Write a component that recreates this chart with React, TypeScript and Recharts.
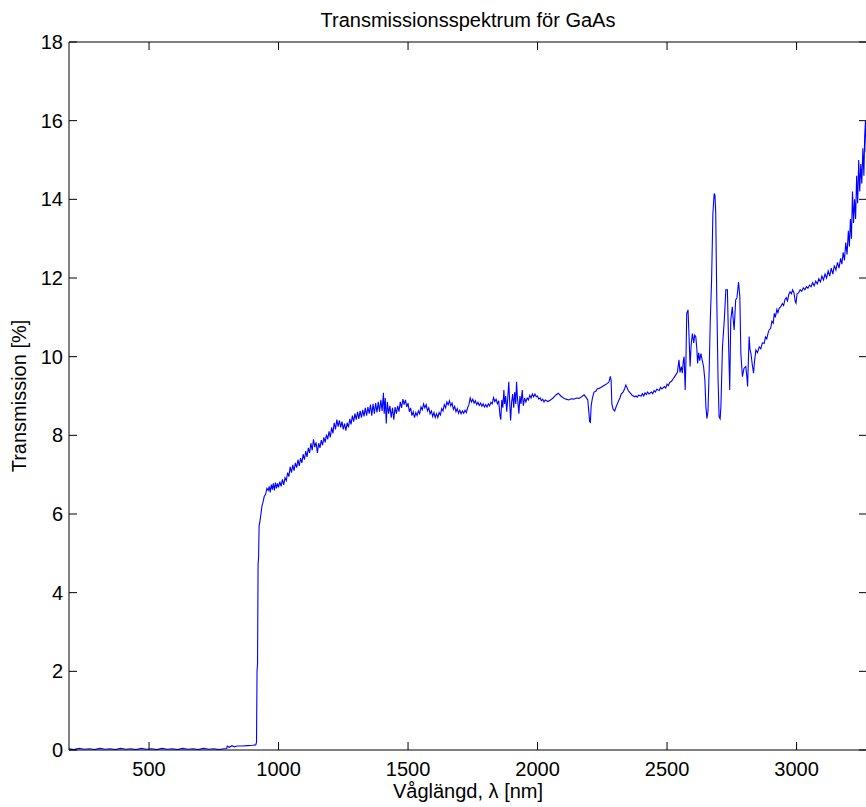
import React from "react";
import { LineChart, Line, XAxis, YAxis, ReferenceLine } from "recharts";

// wavelength [nm], transmission [%], piece by piece
const baseline: [number, number][] = [
  [191, 0.03], [210, 0.01], [230, 0.04], [250, 0.02], [270, 0.03], [290, 0.01],
  [310, 0.04], [330, 0.02], [350, 0.03], [370, 0.01], [390, 0.04], [410, 0.02],
  [430, 0.03], [450, 0.01], [470, 0.04], [490, 0.02], [510, 0.03], [530, 0.01],
  [550, 0.04], [570, 0.02], [590, 0.03], [610, 0.01], [630, 0.04], [650, 0.02],
  [670, 0.03], [690, 0.01], [710, 0.04], [730, 0.02], [750, 0.03], [770, 0.01],
  [790, 0.03], [800, 0.04], [802, 0.1], [810, 0.07], [820, 0.11], [830, 0.08],
  [840, 0.1], [860, 0.1], [880, 0.11], [900, 0.12], [912, 0.13], [915, 0.2],
];

const bandEdge: [number, number][] = [
  [917, 2.0], [919, 2.2], [921, 4.7], [923, 4.9], [925, 5.7], [928, 5.8],
  [932, 6.0], [936, 6.2], [940, 6.3], [945, 6.45], [950, 6.5], [955, 6.65],
  [960, 6.6],
];

const rise: [number, number][] = [
  [964, 6.7], [968, 6.55], [972, 6.75], [976, 6.62], [980, 6.78], [984, 6.6],
  [988, 6.8], [992, 6.65], [996, 6.78], [1000, 6.68], [1005, 6.82], [1010, 6.7],
  [1015, 6.88], [1020, 6.74], [1025, 6.92], [1030, 6.85], [1035, 7.05], [1040, 6.95],
  [1045, 7.2], [1050, 7.05], [1055, 7.25], [1060, 7.1], [1065, 7.3], [1070, 7.18],
  [1075, 7.38], [1080, 7.22], [1085, 7.42], [1090, 7.3], [1095, 7.52], [1100, 7.38],
  [1105, 7.6], [1110, 7.45], [1115, 7.68], [1120, 7.55], [1125, 7.8], [1130, 7.62],
  [1135, 7.9], [1140, 7.7], [1145, 7.82], [1150, 7.55], [1155, 7.8], [1160, 7.68],
  [1165, 7.88], [1170, 7.75], [1175, 7.95], [1180, 7.82], [1185, 8.02], [1190, 7.9],
  [1195, 8.1], [1200, 7.95], [1205, 8.2], [1210, 8.05], [1215, 8.32], [1220, 8.15],
  [1225, 8.4], [1230, 8.22], [1235, 8.38], [1240, 8.2], [1245, 8.35], [1250, 8.15],
  [1255, 8.3], [1260, 8.12], [1265, 8.32], [1270, 8.2], [1275, 8.42], [1280, 8.28],
  [1285, 8.5], [1290, 8.35], [1295, 8.55], [1300, 8.4], [1305, 8.6], [1310, 8.42],
  [1315, 8.62], [1320, 8.45], [1325, 8.65], [1330, 8.48], [1335, 8.7], [1340, 8.5],
  [1345, 8.72], [1350, 8.55], [1355, 8.78], [1360, 8.5], [1365, 8.8], [1370, 8.55],
  [1375, 8.82], [1380, 8.58], [1385, 8.85], [1390, 8.6], [1395, 8.9], [1400, 8.62],
  [1405, 9.08], [1408, 8.55], [1412, 8.95], [1416, 8.3], [1420, 8.85], [1425, 8.55],
  [1430, 8.75], [1435, 8.45], [1440, 8.7], [1445, 8.4], [1450, 8.72],
];

const plateau: [number, number][] = [
  [1455, 8.55], [1460, 8.75], [1465, 8.6], [1470, 8.85], [1475, 8.7], [1480, 8.92],
  [1485, 8.78], [1490, 8.9], [1495, 8.72], [1500, 8.82], [1505, 8.6], [1510, 8.7],
  [1515, 8.5], [1520, 8.6], [1525, 8.45], [1530, 8.58], [1535, 8.5], [1540, 8.62],
  [1545, 8.55], [1550, 8.72], [1555, 8.65], [1560, 8.8], [1565, 8.7], [1570, 8.78],
  [1575, 8.62], [1580, 8.7], [1585, 8.55], [1590, 8.62], [1595, 8.48], [1600, 8.58],
  [1605, 8.45], [1610, 8.55], [1615, 8.45], [1620, 8.58], [1625, 8.52], [1630, 8.68],
  [1635, 8.62], [1640, 8.78], [1645, 8.7], [1650, 8.85], [1655, 8.78], [1660, 8.88],
  [1665, 8.75], [1670, 8.82], [1675, 8.66], [1680, 8.74], [1685, 8.6], [1690, 8.68],
  [1695, 8.56], [1700, 8.64], [1705, 8.55], [1710, 8.62], [1715, 8.56], [1720, 8.64],
  [1725, 8.58], [1730, 8.7], [1735, 8.78], [1740, 8.95], [1745, 8.85], [1750, 8.92],
  [1755, 8.82], [1760, 8.88], [1765, 8.78], [1770, 8.84], [1775, 8.76], [1780, 8.82],
  [1785, 8.74], [1790, 8.8], [1795, 8.72], [1800, 8.78], [1805, 8.72], [1810, 8.8],
  [1815, 8.75], [1820, 8.84], [1825, 8.8], [1830, 8.96], [1835, 8.86], [1840, 8.92],
  [1845, 8.8], [1850, 8.88], [1855, 8.5], [1858, 8.4], [1862, 8.9], [1866, 8.7],
  [1870, 9.15], [1873, 8.8], [1877, 9.0], [1881, 8.6], [1885, 8.95], [1889, 9.36],
  [1892, 8.9], [1896, 8.38], [1900, 8.85], [1904, 9.05], [1908, 8.7], [1912, 9.1],
  [1916, 8.8], [1919, 9.36], [1922, 9.0], [1928, 8.55], [1932, 9.0], [1936, 8.8],
  [1941, 9.15], [1945, 8.75], [1950, 8.95], [1955, 8.85], [1960, 8.95], [1965, 8.9],
  [1970, 9.02], [1975, 8.95], [1980, 9.05], [1985, 8.98], [1990, 9.05], [1995, 8.98],
  [2000, 9.0], [2005, 8.92], [2010, 8.95], [2015, 8.88], [2020, 8.92], [2025, 8.85],
  [2030, 8.9], [2040, 8.86], [2050, 8.9], [2060, 8.95], [2070, 9.02], [2080, 9.07],
  [2090, 9.0], [2100, 8.95], [2110, 8.92], [2120, 8.9], [2130, 8.93], [2140, 8.92],
  [2150, 8.95], [2160, 8.94], [2170, 8.98], [2180, 9.03], [2188, 8.96], [2194, 8.9],
];

const dips: [number, number][] = [
  [2198, 8.6], [2201, 8.35], [2204, 8.33], [2207, 8.75], [2212, 8.95], [2218, 9.1],
  [2225, 9.12], [2230, 9.18], [2240, 9.2], [2250, 9.24], [2260, 9.28], [2270, 9.32],
  [2276, 9.36], [2281, 9.5], [2284, 9.4], [2287, 8.8], [2292, 8.66], [2298, 8.62],
  [2303, 8.72], [2308, 8.8], [2313, 8.88], [2318, 8.95], [2323, 9.05], [2330, 9.1],
  [2336, 9.18], [2341, 9.28], [2345, 9.22], [2350, 9.14], [2355, 9.1], [2360, 9.06],
  [2365, 9.02], [2370, 9.0], [2375, 8.98], [2380, 9.0], [2385, 8.97], [2390, 9.02],
  [2400, 9.0], [2405, 9.06], [2410, 9.0], [2415, 9.08], [2420, 9.04], [2425, 9.1],
  [2430, 9.05], [2440, 9.1], [2445, 9.06], [2450, 9.14], [2455, 9.1], [2460, 9.17],
  [2470, 9.14], [2475, 9.22], [2480, 9.18], [2490, 9.24], [2495, 9.2], [2500, 9.3],
  [2505, 9.26], [2510, 9.34], [2518, 9.38], [2525, 9.45], [2530, 9.5], [2535, 9.55],
];

const waterBand: [number, number][] = [
  [2540, 9.6], [2546, 9.92], [2550, 9.6], [2555, 9.75], [2559, 9.58], [2563, 9.9],
  [2566, 10.0], [2570, 9.15], [2573, 9.9], [2576, 11.1], [2581, 11.19], [2585, 10.5],
  [2589, 9.75], [2593, 10.3], [2598, 10.59], [2603, 10.35], [2607, 10.55], [2611, 10.51],
  [2615, 10.2], [2618, 9.83], [2622, 10.1], [2626, 9.9], [2631, 10.08], [2636, 9.9],
  [2641, 9.75], [2646, 9.41], [2650, 8.73], [2654, 8.43], [2658, 8.6], [2663, 9.75],
  [2667, 10.93], [2672, 11.95], [2677, 13.64], [2682, 14.15], [2685, 14.1], [2688, 13.64],
  [2692, 11.44], [2697, 9.41], [2701, 8.47], [2705, 8.42], [2708, 8.73], [2714, 10.25],
  [2721, 10.93], [2727, 11.7], [2733, 11.7], [2737, 10.5], [2742, 9.15], [2746, 10.93],
  [2752, 11.27], [2756, 10.9], [2759, 10.68], [2765, 11.44], [2770, 11.5], [2776, 11.9],
  [2781, 11.53], [2785, 10.08], [2791, 9.49], [2797, 9.7], [2804, 9.75], [2808, 9.5],
  [2811, 9.24], [2814, 9.9], [2817, 10.51], [2820, 10.2], [2824, 10.08], [2829, 9.8],
  [2834, 9.58], [2838, 9.9], [2843, 10.17], [2849, 10.1], [2856, 10.25], [2862, 10.2],
  [2868, 10.35], [2875, 10.34], [2880, 10.5], [2885, 10.45], [2890, 10.6], [2894, 10.68],
  [2900, 10.72], [2905, 10.9], [2910, 10.85], [2914, 11.1], [2918, 11.0], [2924, 11.2],
  [2928, 11.12], [2933, 11.23], [2939, 11.27],
];

const tail: [number, number][] = [
  [2945, 11.35], [2950, 11.3], [2955, 11.45], [2960, 11.5], [2965, 11.42], [2970, 11.58],
  [2975, 11.65], [2980, 11.6], [2985, 11.7], [2990, 11.62], [2995, 11.4], [2998, 11.36],
  [3002, 11.6], [3008, 11.62], [3014, 11.7], [3020, 11.66], [3026, 11.75], [3032, 11.7],
  [3038, 11.78], [3044, 11.74], [3050, 11.82], [3056, 11.78], [3062, 11.88], [3068, 11.8],
  [3074, 11.92], [3080, 11.85], [3086, 11.98], [3092, 11.9], [3098, 12.05], [3104, 11.95],
  [3110, 12.1], [3116, 12.0], [3122, 12.18], [3128, 12.05], [3134, 12.25], [3140, 12.1],
  [3146, 12.32], [3152, 12.2], [3158, 12.4], [3164, 12.25], [3170, 12.5], [3175, 12.35],
  [3180, 12.65], [3185, 12.45], [3190, 12.9], [3195, 12.6], [3200, 13.2], [3204, 12.8],
  [3208, 13.5], [3212, 13.0], [3216, 14.2], [3220, 13.4], [3224, 14.0], [3228, 13.5],
  [3232, 14.6], [3236, 13.9], [3240, 15.0], [3244, 14.2], [3248, 14.9], [3252, 14.4],
  [3256, 15.3], [3260, 14.6], [3263, 15.6], [3266, 16.0], [3269, 15.2], [3271, 16.0],
  [3272, 14.0],
];

const xTicks = [500, 1000, 1500, 2000, 2500, 3000];
const yTicks = [0, 2, 4, 6, 8, 10, 12, 14, 16, 18];
const xDomain: [number, number] = [191, 3272];
const yDomain: [number, number] = [0, 18];

const spectrum = [...baseline, ...bandEdge, ...rise, ...plateau, ...dips, ...waterBand, ...tail].map(
  ([nm, t]) => ({ nm, t })
);

const FONT = '"Liberation Sans", Arial, Helvetica, sans-serif';
const PLOT_TOP = 42;
const PLOT_BOTTOM = 750;
const PLOT_LEFT = 69;
const PLOT_RIGHT = 867;
const TICK_LEN = 8;

// bottom ticks: label + inward tick, mirrored on the top edge
const XTick = ({ x, payload }: any) => (
  <g>
    <line x1={x} x2={x} y1={PLOT_BOTTOM} y2={PLOT_BOTTOM - TICK_LEN} stroke="#000" />
    <line x1={x} x2={x} y1={PLOT_TOP} y2={PLOT_TOP + TICK_LEN} stroke="#000" />
    <text x={x} y={PLOT_BOTTOM + 26} textAnchor="middle" fontSize={20} fontFamily={FONT} fill="#000">
      {payload.value}
    </text>
  </g>
);

// left ticks: label + inward tick, mirrored on the right edge
const YTick = ({ y, payload }: any) => (
  <g>
    <line x1={PLOT_LEFT} x2={PLOT_LEFT + TICK_LEN} y1={y} y2={y} stroke="#000" />
    <line x1={PLOT_RIGHT - TICK_LEN} x2={PLOT_RIGHT} y1={y} y2={y} stroke="#000" />
    <text x={PLOT_LEFT - 6} y={y + 7} textAnchor="end" fontSize={20} fontFamily={FONT} fill="#000">
      {payload.value}
    </text>
  </g>
);

const App = () => {
  return (
    <div
      style={{
        position: "absolute",
        left: 0,
        top: 0,
        width: 866,
        height: 807,
        overflow: "hidden",
        background: "#fff",
        fontFamily: FONT,
      }}
    >
      <div
        style={{
          position: "absolute",
          left: 69,
          width: 798,
          top: 10,
          lineHeight: "20px",
          fontSize: 20,
          textAlign: "center",
        }}
      >
        Transmissionsspektrum för GaAs
      </div>
      <div
        style={{
          position: "absolute",
          left: 69,
          width: 798,
          top: 781,
          lineHeight: "20px",
          fontSize: 20,
          textAlign: "center",
        }}
      >
        Våglängd, λ [nm]
      </div>
      <div
        style={{
          position: "absolute",
          left: 19 - 100,
          top: 396 - 10,
          width: 200,
          height: 20,
          lineHeight: "20px",
          fontSize: 20,
          textAlign: "center",
          transform: "rotate(-90deg)",
        }}
      >
        Transmission [%]
      </div>

      <LineChart
        width={872}
        height={807}
        data={spectrum}
        margin={{ top: 42, right: 5, bottom: 27, left: 39 }}
      >
        <XAxis
          dataKey="nm"
          type="number"
          domain={xDomain}
          ticks={xTicks}
          interval={0}
          height={30}
          tickSize={0}
          tickMargin={0}
          tickLine={false}
          tick={XTick}
          allowDataOverflow
          axisLine={{ stroke: "#000" }}
        />
        <YAxis
          type="number"
          domain={yDomain}
          ticks={yTicks}
          interval={0}
          width={30}
          tickSize={0}
          tickMargin={0}
          tickLine={false}
          tick={YTick}
          allowDataOverflow
          axisLine={{ stroke: "#000" }}
        />
        <ReferenceLine y={18} stroke="#000" />
        <Line
          type="linear"
          dataKey="t"
          stroke="#0000ff"
          strokeWidth={1.1}
          dot={false}
          isAnimationActive={false}
        />
      </LineChart>
    </div>
  );
};

export default App;
